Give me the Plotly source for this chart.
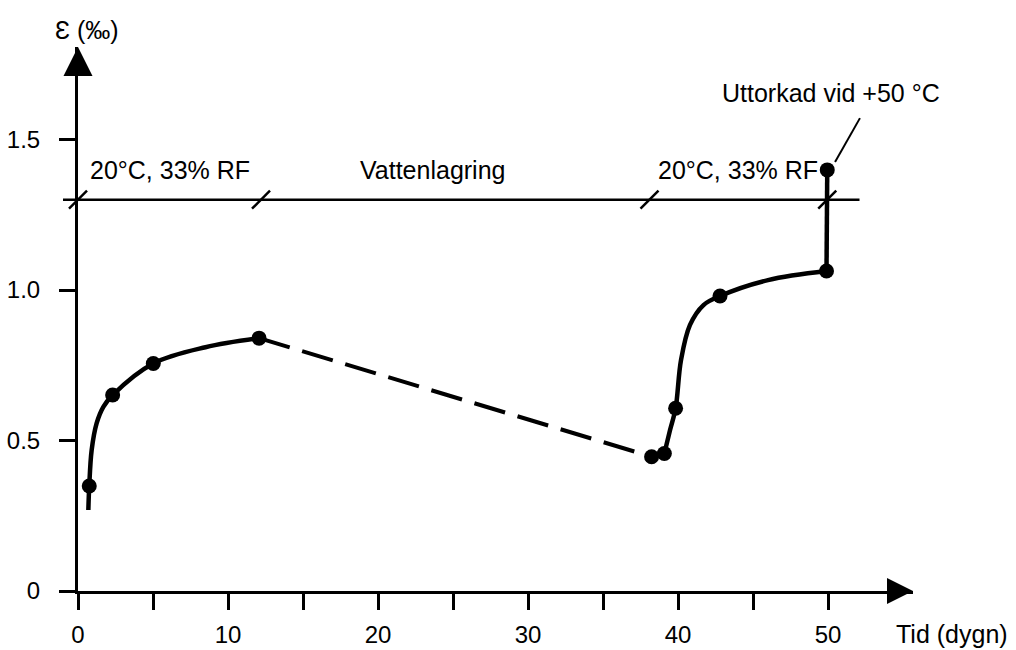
import plotly.graph_objects as go

# ---------------- data ----------------
# period 1 (20 °C, 33 % RF): measured points plus points read along the drawn curve
curve1_x = [0.69, 0.75, 0.91, 1.24, 1.69, 2.31, 5.02, 8.5, 12.07]
curve1_y = [0.269, 0.349, 0.468, 0.557, 0.612, 0.651, 0.756, 0.81, 0.84]
# water storage (dashed)
water_x = [12.07, 38.24]
water_y = [0.84, 0.446]
# period 3 (20 °C, 33 % RF)
curve3a_x = [38.24, 39.09]
curve3a_y = [0.446, 0.457]
curve3b_x = [39.09, 39.47, 39.84, 40.2, 40.8, 41.7, 42.8, 46.0, 49.9]
curve3b_y = [0.457, 0.535, 0.607, 0.767, 0.884, 0.95, 0.98, 1.033, 1.063]
# dried at +50 °C
dry_x = [49.9, 49.95]
dry_y = [1.063, 1.399]
# measured points (dots)
points_x = [0.75, 2.31, 5.02, 12.07, 38.24, 39.09, 39.84, 42.8, 49.9, 49.95]
points_y = [0.349, 0.651, 0.756, 0.84, 0.446, 0.457, 0.607, 0.98, 1.063, 1.399]

# periods bar
period_bounds = [0, 12.2, 38.1, 49.95]
period_level = 1.3
period_line_x = [-1.0, 52.1]
period_labels = ["20°C, 33% RF", "Vattenlagring", "20°C, 33% RF"]
period_label_x = [6.13, 23.6, 43.97]
period_label_y = 1.40

# axes
x_ticks = [0, 5, 10, 15, 20, 25, 30, 35, 40, 45, 50]
x_ticktext = ["0", "", "10", "", "20", "", "30", "", "40", "", "50"]
y_ticks = [0, 0.5, 1.0, 1.5]
y_ticktext = ["0", "0.5", "1.0", "1.5"]
x_title = "Tid (dygn)"
y_title = "Ɛ (‰)"
dry_label = "Uttorkad vid +50 °C"

# ---------------- layout geometry ----------------
W, H = 1016, 650
X0_PX, PX_PER_DAY = 78, 15.0      # pixel of x = 0, pixels per day
Y0_PX, PX_PER_UNIT = 591, 301.0   # pixel of y = 0, pixels per unit
X_END_PX, Y_END_PX = 913, 47      # arrow tips

x_full = [-X0_PX / PX_PER_DAY, (W - X0_PX) / PX_PER_DAY]
y_full = [-(H - Y0_PX) / PX_PER_UNIT, Y0_PX / PX_PER_UNIT]
x_axis_max = (X_END_PX - X0_PX) / PX_PER_DAY
y_axis_max = (Y0_PX - Y_END_PX) / PX_PER_UNIT

FONT = "Liberation Sans, Arial, Helvetica, sans-serif"
INK = "#000000"

fig = go.Figure()

# invisible trace to create the axes subplot
fig.add_trace(go.Scatter(x=[0], y=[0], xaxis="x2", yaxis="y2", mode="markers",
                         marker=dict(opacity=0), hoverinfo="skip", showlegend=False))

# period bar
fig.add_trace(go.Scatter(x=period_line_x, y=[period_level] * 2, mode="lines",
                         line=dict(color=INK, width=2.5), showlegend=False))
fig.add_trace(go.Scatter(x=period_bounds, y=[period_level] * len(period_bounds), mode="markers",
                         marker=dict(symbol="line-ne", size=18, color=INK, opacity=1,
                                     line=dict(color=INK, width=2.5)),
                         showlegend=False))

# curves
fig.add_trace(go.Scatter(x=curve1_x, y=curve1_y, mode="lines",
                         line=dict(color=INK, width=4.5, shape="spline", smoothing=1.0),
                         showlegend=False))
fig.add_trace(go.Scatter(x=water_x, y=water_y, mode="lines",
                         line=dict(color=INK, width=4, dash="32px,13px"), showlegend=False))
fig.add_trace(go.Scatter(x=curve3a_x, y=curve3a_y, mode="lines",
                         line=dict(color=INK, width=4), showlegend=False))
fig.add_trace(go.Scatter(x=curve3b_x, y=curve3b_y, mode="lines",
                         line=dict(color=INK, width=4.5, shape="spline", smoothing=1.0),
                         showlegend=False))
fig.add_trace(go.Scatter(x=dry_x, y=dry_y, mode="lines",
                         line=dict(color=INK, width=4.5), showlegend=False))
fig.add_trace(go.Scatter(x=points_x, y=points_y, mode="markers",
                         marker=dict(color=INK, size=15, opacity=1), showlegend=False))

# axis arrowheads
fig.add_trace(go.Scatter(x=[0], y=[y_axis_max], mode="markers",
                         marker=dict(symbol="arrow-up", size=29, color=INK, opacity=1,
                                     line=dict(width=0)),
                         showlegend=False))
fig.add_trace(go.Scatter(x=[x_axis_max], y=[0], mode="markers",
                         marker=dict(symbol="arrow-right", size=26, color=INK, opacity=1,
                                     line=dict(width=0)),
                         showlegend=False))

# leader line for the dried point
fig.add_shape(type="line", xref="x", yref="y",
              x0=points_x[-1] + 0.52, y0=points_y[-1] + 0.026,
              x1=points_x[-1] + 2.18, y1=points_y[-1] + 0.172,
              line=dict(color=INK, width=2))

annotations = []
for lab, lx in zip(period_labels, period_label_x):
    annotations.append(dict(x=lx, y=period_label_y, xref="x", yref="y", text=lab,
                            showarrow=False, xanchor="center", yanchor="middle",
                            font=dict(family=FONT, size=25, color=INK)))
annotations.append(dict(x=50.17, y=1.655, xref="x", yref="y", text=dry_label,
                        showarrow=False, xanchor="center", yanchor="middle",
                        font=dict(family=FONT, size=25, color=INK)))
annotations.append(dict(x=952 / W, y=1 - 634 / H, xref="paper", yref="paper", text=x_title,
                        showarrow=False, xanchor="center", yanchor="middle",
                        font=dict(family=FONT, size=25, color=INK)))
annotations.append(dict(x=87 / W, y=1 - 30 / H, xref="paper", yref="paper", text=y_title,
                        showarrow=False, xanchor="center", yanchor="middle",
                        font=dict(family=FONT, size=25, color=INK)))

fig.update_layout(
    width=W, height=H,
    margin=dict(l=0, r=0, t=0, b=0, pad=0),
    paper_bgcolor="white", plot_bgcolor="rgba(0,0,0,0)",
    showlegend=False,
    font=dict(family=FONT, size=24, color=INK),
    annotations=annotations,
    xaxis=dict(range=x_full, domain=[0, 1], visible=False, fixedrange=True),
    yaxis=dict(range=y_full, domain=[0, 1], visible=False, fixedrange=True),
    xaxis2=dict(range=[0, x_axis_max], domain=[X0_PX / W, X_END_PX / W], anchor="y2",
                showline=True, linecolor=INK, linewidth=3, showgrid=False, zeroline=False,
                ticks="outside", ticklen=16, tickwidth=3, tickcolor=INK,
                tickmode="array", tickvals=x_ticks, ticktext=x_ticktext,
                tickfont=dict(family=FONT, size=24, color=INK), ticklabelstandoff=4,
                automargin=False, fixedrange=True),
    yaxis2=dict(range=[0, y_axis_max], domain=[(H - Y0_PX) / H, (H - Y_END_PX) / H], anchor="x2",
                showline=True, linecolor=INK, linewidth=3, showgrid=False, zeroline=False,
                ticks="outside", ticklen=16, tickwidth=3, tickcolor=INK,
                tickmode="array", tickvals=y_ticks, ticktext=y_ticktext,
                tickfont=dict(family=FONT, size=24, color=INK), ticklabelstandoff=14,
                automargin=False, fixedrange=True),
)

fig.write_html("out.html")
